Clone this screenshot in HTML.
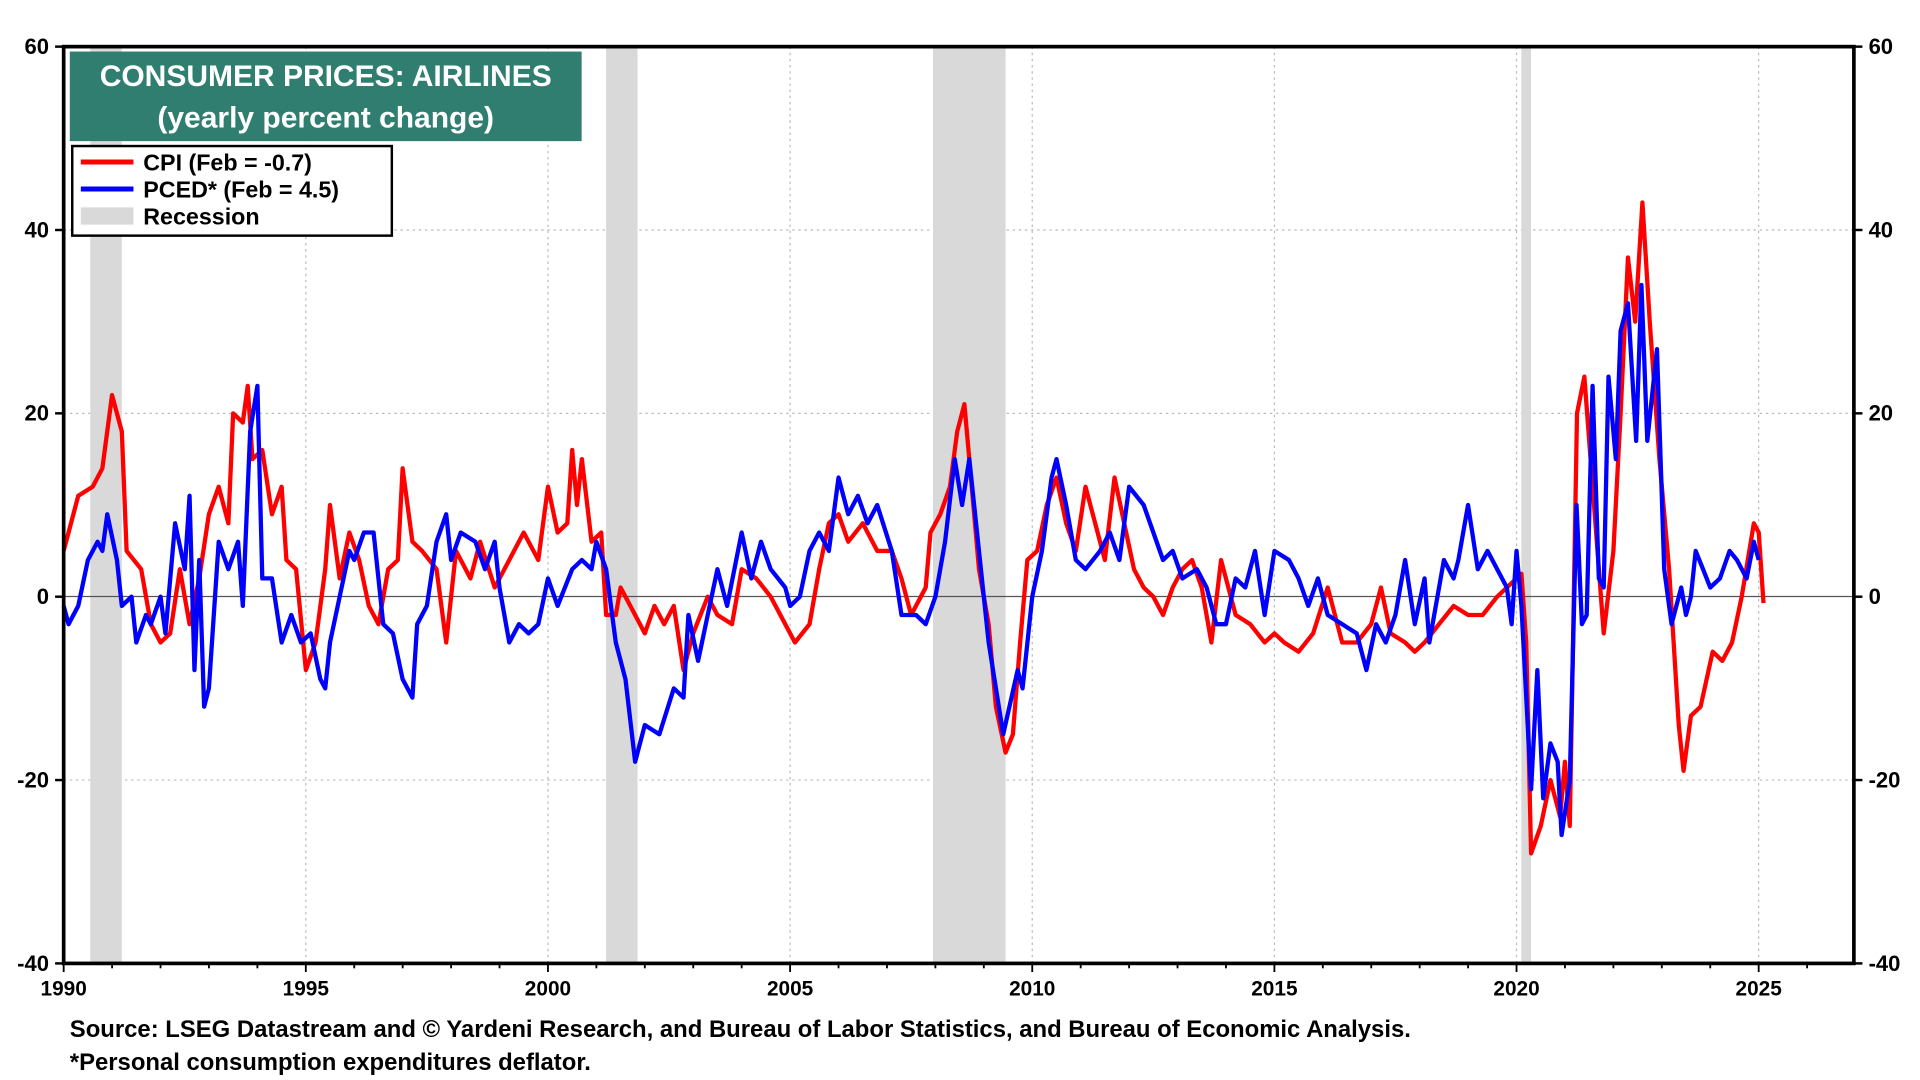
<!DOCTYPE html>
<html><head><meta charset="utf-8"><style>
html,body{margin:0;padding:0;background:#fff;}
svg{display:block;font-family:"Liberation Sans",Arial,sans-serif;font-weight:bold;}
</style></head><body>
<svg id="chart" width="1920" height="1080" viewBox="0 0 1568 880" preserveAspectRatio="none" xmlns="http://www.w3.org/2000/svg">
<g id="grid"></g>
<g id="rec"></g>
<line x1="52" x2="1514" y1="486" y2="486" stroke="#555" stroke-width="1"/>
<g id="series"></g>
<rect x="52" y="38" width="1462" height="747" fill="none" stroke="#000" stroke-width="3"/>
<g id="axes"></g>
<g>
<rect x="57" y="42" width="418" height="73" fill="#2f7e70"/>
<text x="266" y="70" text-anchor="middle" fill="#fff" font-size="24.5">CONSUMER PRICES: AIRLINES</text>
<text x="266" y="104" text-anchor="middle" fill="#fff" font-size="24.5">(yearly percent change)</text>
</g>
<g>
<rect x="59" y="119" width="261" height="73" fill="#fff" stroke="#000" stroke-width="2"/>
<line x1="66" x2="109" y1="132" y2="132" stroke="#f00" stroke-width="4"/>
<text x="117" y="139" font-size="19">CPI (Feb = -0.7)</text>
<line x1="66" x2="109" y1="154" y2="154" stroke="#00f" stroke-width="4"/>
<text x="117" y="161" font-size="19">PCED* (Feb = 4.5)</text>
<rect x="66" y="169" width="43" height="14" fill="#d9d9d9"/>
<text x="117" y="183" font-size="19">Recession</text>
</g>
<text x="57" y="845" font-size="19.5">Source: LSEG Datastream and © Yardeni Research, and Bureau of Labor Statistics, and Bureau of Economic Analysis.</text>
<text x="57" y="872" font-size="19.5">*Personal consumption expenditures deflator.</text>
</svg>
<script>
const yTicks=[60,40,20,0,-20,-40];
const xTicks=[1990,1995,2000,2005,2010,2015,2020,2025];
const recStart=[1990.55,2001.2,2007.95,2020.1];
const recEnd=[1991.2,2001.85,2009.45,2020.3];
const cpiX=[1990.0,1990.3,1990.6,1990.8,1991.0,1991.2,1991.3,1991.6,1991.8,1992.0,1992.2,1992.4,1992.6,1992.8,1993.0,1993.2,1993.4,1993.5,1993.7,1993.8,1993.9,1994.1,1994.3,1994.5,1994.6,1994.8,1995.0,1995.2,1995.4,1995.5,1995.7,1995.9,1996.1,1996.3,1996.5,1996.7,1996.9,1997.0,1997.2,1997.4,1997.7,1997.9,1998.1,1998.4,1998.6,1998.9,1999.2,1999.5,1999.8,2000.0,2000.2,2000.4,2000.5,2000.6,2000.7,2000.9,2001.1,2001.2,2001.4,2001.5,2001.8,2002.0,2002.2,2002.4,2002.6,2002.8,2003.0,2003.3,2003.5,2003.8,2004.0,2004.3,2004.6,2004.9,2005.1,2005.4,2005.6,2005.8,2006.0,2006.2,2006.5,2006.8,2007.1,2007.3,2007.5,2007.8,2007.9,2008.1,2008.3,2008.45,2008.6,2008.75,2008.9,2009.1,2009.25,2009.45,2009.6,2009.75,
2009.9,2010.1,2010.3,2010.5,2010.7,2010.9,2011.1,2011.3,2011.5,2011.7,2011.9,2012.1,2012.3,2012.5,2012.7,2012.9,2013.1,2013.3,2013.5,2013.7,2013.9,
2014.2,2014.5,2014.8,2015.0,2015.2,2015.5,2015.8,2016.1,2016.4,2016.7,2017.0,2017.2,2017.4,2017.7,2017.9,2018.1,2018.4,2018.7,2019.0,2019.3,2019.6,2019.8,2020.0,
2020.1,2020.2,2020.3,2020.5,2020.7,2020.9,2021.0,2021.1,2021.25,2021.4,2021.6,2021.8,2022.0,2022.15,2022.3,2022.45,2022.6,2022.75,2022.95,2023.15,2023.35,2023.45,2023.6,2023.8,2024.05,2024.25,2024.45,2024.65,2024.9,2025.0,2025.1];
const cpiV=[5,11,12,14,22,18,5,3,-3,-5,-4,3,-3,2,9,12,8,20,19,23,15,16,9,12,4,3,-8,-5,3,10,2,7,4,-1,-3,3,4,14,6,5,3,-5,5,2,6,1,4,7,4,12,7,8,16,10,15,6,7,-2,-2,1,-2,-4,-1,-3,-1,-8,-4,0,-2,-3,3,2,0,-3,-5,-3,3,8,9,6,8,5,5,2,-2,1,7,9,12,18,21,12,3,-3,-12,-17,-15,-5,
4,5,10,13,8,5,12,8,4,13,8,3,1,0,-2,1,3,4,1,-5,4,
-2,-3,-5,-4,-5,-6,-4,1,-5,-5,-3,1,-4,-5,-6,-5,-3,-1,-2,-2,0,1,2,
2.5,-5,-28,-25,-20,-24,-18,-25,20,24,10,-4,5,20,37,30,43,30,15,3,-14,-19,-13,-12,-6,-7,-5,0,8,7,-0.7];
const pcedX=[1990.0,1990.1,1990.3,1990.5,1990.7,1990.8,1990.9,1991.1,1991.2,1991.4,1991.5,1991.7,1991.8,1992.0,1992.1,1992.3,1992.5,1992.6,1992.7,1992.8,1992.9,1993.0,1993.2,1993.4,1993.6,1993.7,1993.85,1994.0,1994.1,1994.3,1994.5,1994.7,1994.9,1995.1,1995.3,1995.4,1995.5,1995.7,1995.9,1996.0,1996.2,1996.4,1996.6,1996.8,1997.0,1997.2,1997.3,1997.5,1997.7,1997.9,1998.0,1998.2,1998.5,1998.7,1998.9,1999.0,1999.2,1999.4,1999.6,1999.8,2000.0,2000.2,2000.5,2000.7,2000.9,2001.0,2001.2,2001.4,2001.6,2001.8,2002.0,2002.3,2002.6,2002.8,2002.9,2003.1,2003.3,2003.5,2003.7,2004.0,2004.2,2004.4,2004.6,2004.9,2005.0,2005.2,2005.4,2005.6,2005.8,2006.0,2006.2,2006.4,2006.6,2006.8,2007.1,2007.3,2007.6,2007.8,2008.0,2008.2,2008.4,2008.55,2008.7,2008.9,2009.1,2009.4,2009.7,2009.8,2010.0,2010.2,2010.4,2010.5,2010.7,2010.9,2011.1,2011.4,2011.6,2011.8,2012.0,2012.3,2012.5,2012.7,2012.9,2013.1,2013.4,2013.6,2013.8,2014.0,2014.2,2014.4,2014.6,2014.8,2015.0,2015.3,2015.5,2015.7,2015.9,2016.1,2016.4,2016.7,2016.9,2017.1,2017.3,2017.5,2017.7,2017.9,2018.1,2018.2,2018.5,2018.7,2018.8,2019.0,2019.2,2019.4,2019.6,2019.8,2019.9,2020.0,2020.1,2020.3,2020.43,2020.55,2020.7,2020.85,2020.93,2021.1,2021.24,2021.35,2021.45,2021.57,2021.7,2021.8,2021.9,2022.05,2022.15,2022.3,2022.47,2022.58,2022.7,2022.9,2023.05,2023.2,2023.4,2023.5,2023.6,2023.7,2023.85,2024.0,2024.2,2024.4,2024.55,2024.75,2024.9,2025.0,2025.1];
const pcedV=[-1,-3,-1,4,6,5,9,4,-1,0,-5,-2,-3,0,-4,8,3,11,-8,4,-12,-10,6,3,6,-1,18,23,2,2,-5,-2,-5,-4,-9,-10,-5,0,5,4,7,7,-3,-4,-9,-11,-3,-1,6,9,4,7,6,3,6,1,-5,-3,-4,-3,2,-1,3,4,3,6,3,-5,-9,-18,-14,-15,-10,-11,-2,-7,-2,3,-1,7,2,6,3,1,-1,0,5,7,5,13,9,11,8,10,5,-2,-2,-3,0,6,15,10,15,5,-5,-15,-8,-10,0,5,13,15,10,4,3,5,7,4,12,10,7,4,5,2,3,1,-3,-3,2,1,5,-2,5,4,2,-1,2,-2,-3,-4,-8,-3,-5,-2,4,-3,2,-5,4,2,4,10,3,5,3,1,-3,5,-1,-21,-8,-22,-16,-18,-26,-20,10,-3,-2,23,2,1,24,15,29,32,17,34,17,27,3,-3,1,-2,0,5,3,1,2,5,4,2,6,4];
const NS='http://www.w3.org/2000/svg';
const X0=52,X1=1514,Y0=38,Y1=785;
const xs=y=>X0+(y-1990)*39.55;
const ys=v=>Y0+(60-v)*(Y1-Y0)/100;
function mk(t,a,p){const e=document.createElementNS(NS,t);for(const k in a)e.setAttribute(k,a[k]);p.appendChild(e);return e;}
const grid=document.getElementById('grid'),axes=document.getElementById('axes'),rec=document.getElementById('rec'),ser=document.getElementById('series');
yTicks.forEach(v=>{
 if(v!==60&&v!==-40&&v!==0){const g=mk('line',{x1:X0,x2:X1,y1:ys(v),y2:ys(v),stroke:'#bbb','stroke-width':1,'stroke-dasharray':'2,3'},grid);
 
 }
 const l=mk('text',{x:40,y:ys(v)+6,'text-anchor':'end','font-size':18},axes);l.textContent=v;
 
 
 const r=mk('text',{x:1526,y:ys(v)+6,'font-size':18},axes);r.textContent=v;
 
 
 mk('line',{x1:X0-7,x2:X0,y1:ys(v),y2:ys(v),stroke:'#000','stroke-width':2},axes);
 mk('line',{x1:X1,x2:X1+7,y1:ys(v),y2:ys(v),stroke:'#000','stroke-width':2},axes);
});
xTicks.forEach(y=>{
 if(y!==1990){const g=mk('line',{x1:xs(y),x2:xs(y),y1:Y0,y2:Y1,stroke:'#bbb','stroke-width':1,'stroke-dasharray':'2,3'},grid);
 
 }
 const t=mk('text',{x:xs(y),y:811,'text-anchor':'middle','font-size':17},axes);t.textContent=y;
 
 
});
for(let y=1990;y<=2026;y++){mk('line',{x1:xs(y),x2:xs(y),y1:Y1,y2:Y1+(y%5?4:7),stroke:'#000','stroke-width':1.5},axes);}
recStart.forEach((s,i)=>{const r=mk('rect',{x:xs(s),y:Y0,width:xs(recEnd[i])-xs(s),height:Y1-Y0,fill:'#d9d9d9'},rec);
 
 });
function line(X,V,c,n){const p=mk('polyline',{points:X.map((x,i)=>xs(x).toFixed(1)+','+ys(V[i]).toFixed(1)).join(' '),fill:'none',stroke:c,'stroke-width':3.5,'stroke-linejoin':'round'},ser);
 
 }
line(cpiX,cpiV,'#f00','cpi-line');
line(pcedX,pcedV,'#00f','pced-line');
</script>
</body></html>
